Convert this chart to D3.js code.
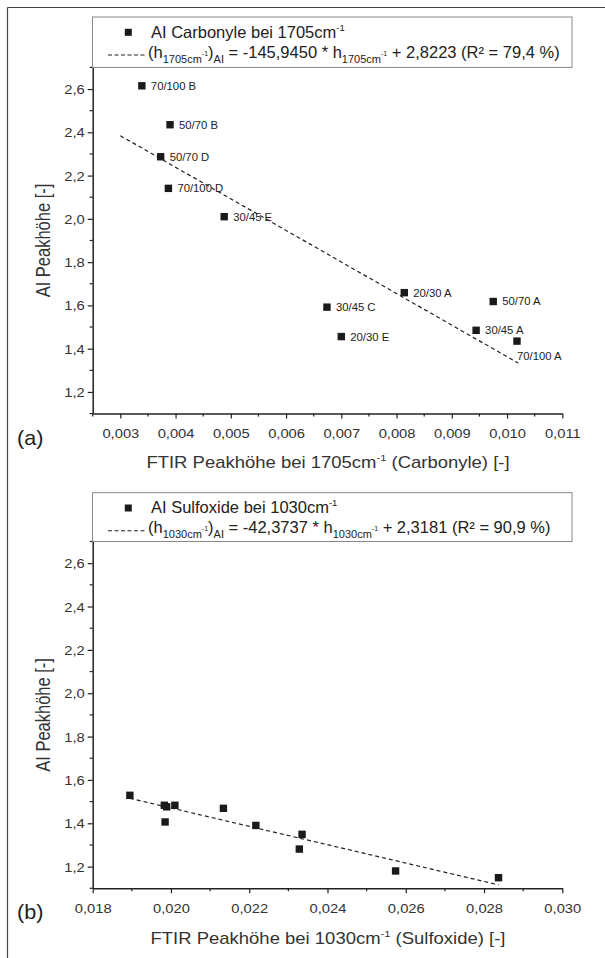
<!DOCTYPE html>
<html>
<head>
<meta charset="utf-8">
<script src="https://cdn.jsdelivr.net/npm/d3@7"></script>
<style>
  html, body { margin: 0; padding: 0; background: #fff; }
  svg { display: block; font-family: "Liberation Sans", Arial, sans-serif; }
</style>
</head>
<body>
<svg id="chart" width="605" height="958"></svg>
<script>
// Carbonyl band (1705 cm-1): FTIR peak height vs. AI peak height
const carbonylX = [0.00339, 0.00390, 0.00373, 0.00387, 0.00488, 0.00814, 0.00674, 0.00700, 0.00975, 0.00944, 0.01018];
const carbonylAI = [2.615, 2.435, 2.287, 2.141, 2.010, 1.659, 1.592, 1.456, 1.618, 1.485, 1.435];
const carbonylLabels = ["70/100 B", "50/70 B", "50/70 D", "70/100 D", "30/45 E", "20/30 A", "30/45 C", "20/30 E", "50/70 A", "30/45 A", "70/100 A"];
const carbonylLabelsBelow = ["70/100 A"];
const carbonylFit = { slope: -145.9450, intercept: 2.8223 };
const carbonylFitRange = [0.0030, 0.0102];

// Sulfoxide band (1030 cm-1)
const sulfoxideX = [0.01895, 0.01983, 0.01989, 0.02010, 0.01985, 0.02134, 0.02217, 0.02335, 0.02328, 0.02574, 0.02837];
const sulfoxideAI = [1.529, 1.483, 1.476, 1.483, 1.406, 1.469, 1.390, 1.349, 1.281, 1.180, 1.149];
const sulfoxideFit = { slope: -42.3737, intercept: 2.3181 };
const sulfoxideFitRange = [0.01895, 0.02837];

// Axis ticks
const yTicksMajor = [1.2, 1.4, 1.6, 1.8, 2.0, 2.2, 2.4, 2.6];
const yTicksMinor = [1.1, 1.3, 1.5, 1.7, 1.9, 2.1, 2.3, 2.5, 2.7];
const carbonylXTicksMajor = [0.003, 0.004, 0.005, 0.006, 0.007, 0.008, 0.009, 0.010, 0.011];
const carbonylXTicksMinor = [0.0025, 0.0035, 0.0045, 0.0055, 0.0065, 0.0075, 0.0085, 0.0095, 0.0105];
const sulfoxideXTicksMajor = [0.018, 0.020, 0.022, 0.024, 0.026, 0.028, 0.030];
const sulfoxideXTicksMinor = [0.019, 0.021, 0.023, 0.025, 0.027, 0.029];

const svg = d3.select("#chart");
const ink = "#222";
const textInk = "#333";
const wide = 1.17; // horizontal stretch of the axis lettering
const fmtY = d => d3.format(".1f")(d).replace(".", ",");
const fmtX = d => d3.format(".3f")(d).replace(".", ",");

// outer frame (left and top edges)
svg.append("line").attr("x1", 7.5).attr("y1", 7.5).attr("x2", 7.5).attr("y2", 958).attr("stroke", "#444").attr("stroke-width", 1.2);
svg.append("line").attr("x1", 7.5).attr("y1", 7.5).attr("x2", 605).attr("y2", 7.5).attr("stroke", "#444").attr("stroke-width", 1.2);

function drawPanel(cfg) {
  const g = svg.append("g");
  const x = d3.scaleLinear().domain(cfg.xDomain).range([92.7, 562.3]);
  const y = d3.scaleLinear().domain([1.1, 2.7]).range([cfg.bottom, cfg.top]);

  // y axis: major labelled ticks + minor ticks
  const yAxis = g.append("g").attr("transform", "translate(92.7,0)")
    .call(d3.axisLeft(y).tickValues(yTicksMajor).tickFormat(fmtY).tickSize(5).tickSizeOuter(0));
  yAxis.append("g").selectAll("line").data(yTicksMinor).join("line")
    .attr("x1", 0).attr("x2", -3).attr("y1", d => y(d)).attr("y2", d => y(d));

  // x axis
  const xAxis = g.append("g").attr("transform", `translate(0,${cfg.bottom})`)
    .call(d3.axisBottom(x).tickValues(cfg.xMajor).tickFormat(cfg.xLabel).tickSize(5).tickSizeOuter(0));
  xAxis.append("g").selectAll("line").data(cfg.xMinor).join("line")
    .attr("y1", 0).attr("y2", 3).attr("x1", d => x(d)).attr("x2", d => x(d));

  [yAxis, xAxis].forEach(a => {
    a.select(".domain").attr("stroke", ink).attr("stroke-width", 1.5);
    a.selectAll("line").attr("stroke", ink).attr("stroke-width", 1.2);
    a.selectAll("text").attr("fill", textInk).style("font-size", "12.6px")
      .style("font-family", "'Liberation Sans', Arial, sans-serif");
  });
  yAxis.selectAll(".tick text").attr("x", 0).attr("y", 0).attr("dy", "0.36em")
    .attr("transform", `translate(-8,0) scale(${wide},1)`);
  xAxis.selectAll(".tick text").attr("x", 0).attr("y", 0).attr("dy", 0)
    .attr("transform", `translate(0,24.7) scale(${wide},1)`);

  // regression line
  g.append("line")
    .attr("x1", x(cfg.fitRange[0])).attr("y1", y(cfg.fit.slope * cfg.fitRange[0] + cfg.fit.intercept))
    .attr("x2", x(cfg.fitRange[1])).attr("y2", y(cfg.fit.slope * cfg.fitRange[1] + cfg.fit.intercept))
    .attr("stroke", ink).attr("stroke-width", 1.2).attr("stroke-dasharray", "4,3");

  // data points
  const s = 7.4;
  g.append("g").selectAll("rect").data(cfg.xs).join("rect")
    .attr("x", (d, i) => x(d) - s / 2).attr("y", (d, i) => y(cfg.ys[i]) - s / 2)
    .attr("width", s).attr("height", s).attr("fill", "#1a1a1a");

  // sample labels
  if (cfg.labels) {
    g.append("g").selectAll("text").data(cfg.labels).join("text")
      .attr("x", (d, i) => cfg.below.includes(d) ? x(cfg.xs[i]) : x(cfg.xs[i]) + 9)
      .attr("y", (d, i) => cfg.below.includes(d) ? y(cfg.ys[i]) + 15 : y(cfg.ys[i]))
      .attr("dy", "0.35em").style("font-size", "11.3px").attr("fill", "#222")
      .text(d => d);
  }

  // axis titles
  g.append("text")
    .attr("transform", `translate(43,${(cfg.top + cfg.bottom) / 2}) rotate(-90) scale(1,${wide})`)
    .attr("text-anchor", "middle").attr("dy", "0.35em")
    .style("font-size", "16.5px").attr("fill", textInk).text("AI Peakhöhe [-]");

  const xt = g.append("text")
    .attr("transform", `translate(328,${cfg.bottom + cfg.titleGap}) scale(${wide},1)`)
    .attr("text-anchor", "middle").style("font-size", "15.8px").attr("fill", textInk);
  xt.append("tspan").text(`FTIR Peakhöhe bei ${cfg.band}cm`);
  xt.append("tspan").attr("dy", -7).style("font-size", "9.5px").text("-1");
  xt.append("tspan").attr("dy", 7).text(` (${cfg.group}) [-]`);

  g.append("text")
    .attr("transform", `translate(17,${cfg.bottom + 31}) scale(1.08,1)`)
    .style("font-size", "20px").attr("fill", "#222").text(cfg.tag);

  // legend box
  const lg = g.append("g").attr("transform", `translate(0,${cfg.legendTop})`);
  lg.append("rect").attr("x", 92.5).attr("y", 0).attr("width", 479.5).attr("height", cfg.top - cfg.legendTop)
    .attr("fill", "#fff").attr("stroke", "#888").attr("stroke-width", 1);
  lg.append("rect").attr("x", 128.3 - 3.5).attr("y", 15.3 - 3.5).attr("width", 7).attr("height", 7).attr("fill", "#1a1a1a");
  const t1 = lg.append("text").attr("x", 151).attr("y", 20.5).style("font-size", "16.5px").attr("fill", "#222");
  t1.append("tspan").text(`AI ${cfg.group} bei ${cfg.band}cm`);
  t1.append("tspan").attr("dy", -7).style("font-size", "9.5px").text("-1");

  lg.append("line").attr("x1", 108).attr("x2", 146).attr("y1", 38).attr("y2", 38)
    .attr("stroke", ink).attr("stroke-width", 1.1).attr("stroke-dasharray", "4,2.5");
  const t2 = lg.append("text").attr("x", 148).attr("y", 40.5).style("font-size", "16.5px").attr("fill", "#222");
  t2.append("tspan").text("(h");
  t2.append("tspan").attr("dy", 5).style("font-size", "11px").text(`${cfg.band}cm`);
  t2.append("tspan").attr("dy", -7).style("font-size", "7px").text("-1");
  t2.append("tspan").attr("dy", 2).text(")");
  t2.append("tspan").attr("dy", 5).style("font-size", "11px").text("AI");
  t2.append("tspan").attr("dy", -5).text(` = ${cfg.eq} * h`);
  t2.append("tspan").attr("dy", 5).style("font-size", "11px").text(`${cfg.band}cm`);
  t2.append("tspan").attr("dy", -7).style("font-size", "7px").text("-1");
  t2.append("tspan").attr("dy", 2).text(` + ${cfg.icpt} (R² = ${cfg.r2} %)`);
}

drawPanel({
  xDomain: [0.0025, 0.011], top: 67.4, bottom: 413.6, legendTop: 17, titleGap: 54,
  xMajor: carbonylXTicksMajor, xMinor: carbonylXTicksMinor, xLabel: fmtX,
  xs: carbonylX, ys: carbonylAI, labels: carbonylLabels, below: carbonylLabelsBelow,
  fit: carbonylFit, fitRange: carbonylFitRange,
  band: "1705", group: "Carbonyle", tag: "(a)",
  eq: "-145,9450", icpt: "2,8223", r2: "79,4"
});

drawPanel({
  xDomain: [0.018, 0.030], top: 541.5, bottom: 888.3, legendTop: 492.7, titleGap: 56,
  xMajor: sulfoxideXTicksMajor, xMinor: sulfoxideXTicksMinor, xLabel: fmtX,
  xs: sulfoxideX, ys: sulfoxideAI, labels: null, below: [],
  fit: sulfoxideFit, fitRange: sulfoxideFitRange,
  band: "1030", group: "Sulfoxide", tag: "(b)",
  eq: "-42,3737", icpt: "2,3181", r2: "90,9"
});
</script>
</body>
</html>
